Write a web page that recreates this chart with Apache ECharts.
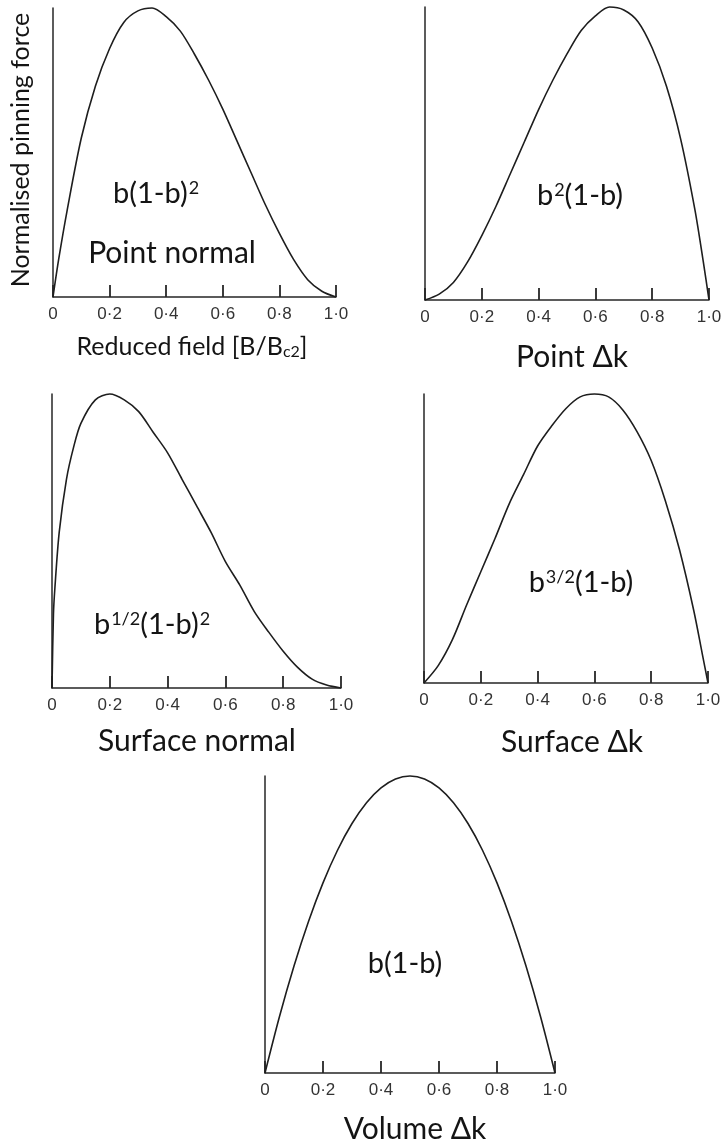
<!DOCTYPE html>
<html>
<head>
<meta charset="utf-8">
<script src="https://cdn.jsdelivr.net/npm/echarts@6/dist/echarts.min.js"></script>
<style>
html,body{margin:0;padding:0;background:#fff;}
#chart{width:725px;height:1144px;}
</style>
</head>
<body>
<div id="chart"></div>
<script>
// ---- Data ----
const tickLabels = ['0', '0·2', '0·4', '0·6', '0·8', '1·0'];

// Point normal: b(1-b)^2
const pointNormalB = [0, 0.02, 0.05, 0.10, 0.15, 0.20, 0.25, 0.30, 0.35, 0.40, 0.45, 0.50, 0.55, 0.60, 0.65, 0.70, 0.75, 0.80, 0.85, 0.90, 0.95, 1.00];
const pointNormalF = [0, 0.13, 0.30, 0.55, 0.73, 0.86, 0.95, 0.99, 1.00, 0.97, 0.92, 0.84, 0.75, 0.65, 0.54, 0.43, 0.32, 0.22, 0.13, 0.06, 0.02, 0];

// Point Δk: b^2(1-b)
const pointDkB = [0, 0.05, 0.10, 0.15, 0.20, 0.25, 0.30, 0.35, 0.40, 0.45, 0.50, 0.55, 0.60, 0.65, 0.70, 0.75, 0.80, 0.85, 0.90, 0.95, 0.98, 1.00];
const pointDkF = [0, 0.02, 0.06, 0.13, 0.22, 0.32, 0.43, 0.54, 0.65, 0.75, 0.84, 0.92, 0.97, 1.00, 0.99, 0.95, 0.86, 0.73, 0.55, 0.31, 0.13, 0];

// Surface normal: b^1/2(1-b)^2
const surfNormalB = [0, 0.005, 0.01, 0.025, 0.05, 0.075, 0.10, 0.15, 0.20, 0.25, 0.30, 0.35, 0.40, 0.45, 0.50, 0.55, 0.60, 0.65, 0.70, 0.75, 0.80, 0.85, 0.90, 0.95, 1.00];
const surfNormalF = [0, 0.25, 0.34, 0.53, 0.71, 0.82, 0.90, 0.98, 1.00, 0.98, 0.94, 0.87, 0.80, 0.71, 0.62, 0.53, 0.43, 0.35, 0.26, 0.19, 0.125, 0.07, 0.03, 0.01, 0];

// Surface Δk: b^3/2(1-b)
const surfDkB = [0, 0.05, 0.10, 0.15, 0.20, 0.25, 0.30, 0.35, 0.40, 0.45, 0.50, 0.55, 0.60, 0.65, 0.70, 0.75, 0.80, 0.85, 0.90, 0.95, 0.98, 1.00];
const surfDkF = [0, 0.06, 0.15, 0.27, 0.385, 0.50, 0.62, 0.72, 0.82, 0.89, 0.95, 0.99, 1.00, 0.99, 0.945, 0.87, 0.77, 0.63, 0.46, 0.25, 0.10, 0];

// Volume Δk: b(1-b)
const volDkB = [0, 0.05, 0.10, 0.15, 0.20, 0.25, 0.30, 0.35, 0.40, 0.45, 0.50, 0.55, 0.60, 0.65, 0.70, 0.75, 0.80, 0.85, 0.90, 0.95, 1.00];
const volDkF = [0, 0.19, 0.36, 0.51, 0.64, 0.75, 0.84, 0.91, 0.96, 0.99, 1.00, 0.99, 0.96, 0.91, 0.84, 0.75, 0.64, 0.51, 0.36, 0.19, 0];

const panelNames = ['Point normal', 'Point Δk', 'Surface normal', 'Surface Δk', 'Volume Δk'];
const yAxisName = 'Normalised pinning force';

// ---- Build chart ----
const series = [
  [pointNormalB, pointNormalF],
  [pointDkB, pointDkF],
  [surfNormalB, surfNormalF],
  [surfDkB, surfDkF],
  [volDkB, volDkF]
];

const grids = [
  {left: 53, top: 8, width: 283, height: 289},
  {left: 425, top: 7, width: 284, height: 293},
  {left: 52, top: 394, width: 289, height: 294},
  {left: 424, top: 394, width: 284, height: 289},
  {left: 265, top: 776, width: 290, height: 297}
];

const ink = '#1e1e1e';
const axisInk = '#262626';
const labelFont = 'Lato, "Open Sans", sans-serif';

const xAxes = grids.map((g, i) => ({
  type: 'value', gridIndex: i, min: 0, max: 1, interval: 0.2,
  axisLine: {show: true, onZero: false, lineStyle: {color: axisInk, width: 1.5}},
  axisTick: {show: true, inside: true, length: 12, lineStyle: {color: axisInk, width: 1.8}},
  splitLine: {show: false},
  axisLabel: {
    show: true, margin: 9, color: '#333', fontSize: 17,
    fontFamily: '"Liberation Sans", Arial, sans-serif',
    formatter: v => tickLabels[Math.round(v / 0.2)]
  }
}));

const yAxes = grids.map((g, i) => ({
  type: 'value', gridIndex: i, min: 0, max: 1,
  axisLine: {show: true, onZero: false, lineStyle: {color: axisInk, width: 1.5}},
  axisTick: {show: false},
  axisLabel: {show: false},
  splitLine: {show: false}
}));

const seriesList = series.map((s, i) => ({
  type: 'line', xAxisIndex: i, yAxisIndex: i,
  data: s[0].map((b, k) => [b, s[1][k]]),
  smooth: 0.3,
  showSymbol: false, symbol: 'none', clip: false, z: 2,
  lineStyle: {color: ink, width: 1.6}
}));

const txtColor = '#141414';
const big = {fontSize: 29, fontFamily: labelFont, color: txtColor};
const sup = {fontSize: 18, fontFamily: labelFont, color: txtColor, verticalAlign: 'top', padding: [0, 0, 0, 1]};

function txt(x, y, text, opts) {
  return {
    type: 'text', x: x, y: y,
    style: Object.assign({
      text: text, fill: txtColor, font: '30px ' + labelFont,
      align: 'center', verticalAlign: 'middle'
    }, opts || {})
  };
}

const graphics = [
  // formula labels
  txt(156, 194, '{b|b(1-b)}{s|2}', {rich: {b: big, s: sup}}),
  txt(580, 196, '{b|b}{s|2}{b|(1-b)}', {rich: {b: big, s: sup}}),
  txt(152, 625, '{b|b}{s|1/2}{b|(1-b)}{s|2}', {rich: {b: big, s: sup}}),
  txt(581, 583, '{b|b}{s|3/2}{b|(1-b)}', {rich: {b: big, s: sup}}),
  txt(405, 964, '{b|b(1-b)}', {rich: {b: big}}),
  // panel names
  txt(172, 253, panelNames[0]),
  txt(572, 357, panelNames[1]),
  txt(197, 741, panelNames[2]),
  txt(572, 742, panelNames[3]),
  txt(415, 1129, panelNames[4]),
  // axis names
  Object.assign(txt(21, 150, yAxisName, {font: '25px ' + labelFont}), {rotation: Math.PI / 2}),
  txt(192, 347, '{a|Reduced field [B/B}{c|c2}{a|]}', {
    rich: {
      a: {fontSize: 25, fontFamily: labelFont, color: txtColor},
      c: {fontSize: 16, fontFamily: labelFont, color: txtColor, verticalAlign: 'bottom'}
    }
  })
];

const chart = echarts.init(document.getElementById('chart'), null, {renderer: 'canvas'});
chart.setOption({
  animation: false,
  backgroundColor: '#ffffff',
  grid: grids,
  xAxis: xAxes,
  yAxis: yAxes,
  series: seriesList,
  graphic: graphics
});
</script>
</body>
</html>
